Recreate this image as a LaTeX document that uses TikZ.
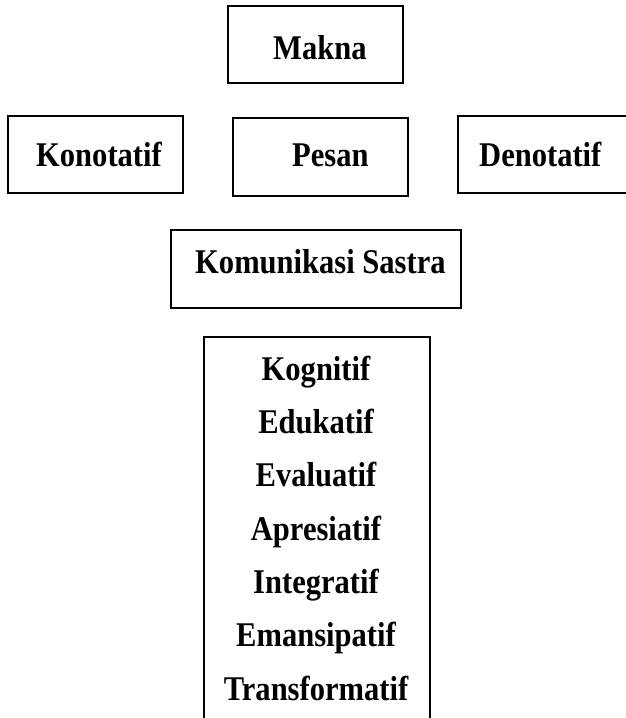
\documentclass[tikz,border=0pt]{standalone}
\usepackage{fontspec}
\usepackage{graphicx}
\setmainfont{Liberation Serif}
\newcommand{\stretchtxt}[1]{\scalebox{0.97}[1.1]{#1}}
\begin{document}
\begin{tikzpicture}[x=1pt,y=-1pt,
  boxst/.style={draw=black,line width=2.2pt,rectangle,inner sep=0pt,outer sep=0pt},
  txt/.style={anchor=base west,inner sep=0pt,font=\fontsize{31.5}{36}\selectfont\bfseries},
  ctxt/.style={anchor=base,inner sep=0pt,font=\fontsize{31.5}{36}\selectfont\bfseries}]
\useasboundingbox (0,0) rectangle (625,718);
% boxes
\node[boxst,minimum width=175pt,minimum height=77pt] (bMakna) at (315.5,44.5) {};
\node[boxst,minimum width=175pt,minimum height=77pt] (bKon) at (95.5,154.5) {};
\node[boxst,minimum width=175pt,minimum height=78pt] (bPesan) at (320.5,157) {};
\node[boxst,minimum width=180pt,minimum height=77pt] (bDen) at (548,154.5) {};
\node[boxst,minimum width=290pt,minimum height=78pt] (bKom) at (316,269) {};
\node[boxst,minimum width=226pt,minimum height=413pt] (bList) at (317,543.5) {};
% texts
\node[txt] (tMakna) at (273,59) {\stretchtxt{Makna}};
\node[txt] (tKon) at (36,166) {\stretchtxt{Konotatif}};
\node[txt] (tPesan) at (292,166) {\stretchtxt{Pesan}};
\node[txt] (tDen) at (479,166) {\stretchtxt{Denotatif}};
\node[txt] (tKom) at (195,273) {\stretchtxt{Komunikasi Sastra}};
\node[ctxt] (l1) at (316,380) {\stretchtxt{Kognitif}};
\node[ctxt] (l2) at (316,433.3) {\stretchtxt{Edukatif}};
\node[ctxt] (l3) at (316,486.7) {\stretchtxt{Evaluatif}};
\node[ctxt] (l4) at (316,540) {\stretchtxt{Apresiatif}};
\node[ctxt] (l5) at (316,593.3) {\stretchtxt{Integratif}};
\node[ctxt] (l6) at (316,646.7) {\stretchtxt{Emansipatif}};
\node[ctxt] (l7) at (316,700) {\stretchtxt{Transformatif}};
\end{tikzpicture}
\end{document}
